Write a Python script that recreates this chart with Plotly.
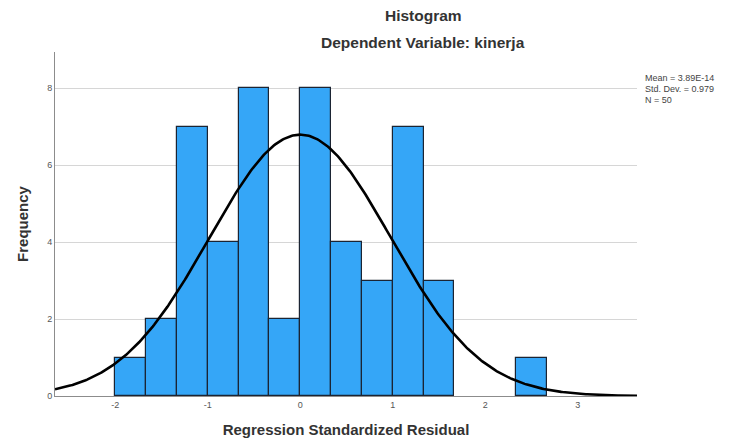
import numpy as np
import plotly.graph_objects as go

# ---- data ----
bin_start = -2.0
bin_width = 1.0 / 3.0
counts = [1, 2, 7, 4, 8, 2, 8, 4, 3, 7, 3, 0, 0, 1]
mean_val = 3.89e-14
std_val = 0.979
n_val = 50
x_ticks = [-2, -1, 0, 1, 2, 3]
y_ticks = [0, 2, 4, 6, 8]
stats_lines = ["Mean = 3.89E-14", "Std. Dev. = 0.979", "N = 50"]

centers = [bin_start + bin_width * (i + 0.5) for i in range(len(counts))]
bar_heights = [c if c > 0 else None for c in counts]

x_range = [-2.65, 3.64]
y_range = [0, 8.94]

xs = np.linspace(x_range[0], x_range[1], 400)
ys = n_val * bin_width * np.exp(-0.5 * ((xs - mean_val) / std_val) ** 2) / (std_val * np.sqrt(2 * np.pi))

fig = go.Figure()
fig.add_trace(go.Bar(
    x=centers, y=bar_heights, width=bin_width,
    marker=dict(color="#35A6F7", line=dict(color="#1b2433", width=1.2)),
    hoverinfo="x+y", showlegend=False,
))
fig.add_trace(go.Scatter(
    x=xs, y=ys, mode="lines",
    line=dict(color="black", width=2.6), showlegend=False, hoverinfo="skip",
))

font_family = "Liberation Sans, Arial, sans-serif"

fig.update_layout(
    width=730, height=443,
    margin=dict(l=55, r=93, t=52, b=47, autoexpand=False),
    paper_bgcolor="white", plot_bgcolor="white",
    font=dict(family=font_family, color="#333"),
    bargap=0,
    xaxis=dict(
        range=x_range, tickvals=x_ticks, ticktext=[str(v) for v in x_ticks],
        showgrid=False, zeroline=False, automargin=False,
        showline=True, linecolor="#8c8c8c", linewidth=1,
        ticks="", tickfont=dict(size=9, color="#555"),
        title=dict(text="<b>Regression Standardized Residual</b>",
                   font=dict(size=15, color="#333"), standoff=15),
    ),
    yaxis=dict(
        range=y_range, tickvals=y_ticks, ticktext=[str(v) for v in y_ticks],
        showgrid=True, gridcolor="#d6d6d6", gridwidth=1, zeroline=False, automargin=False,
        showline=True, linecolor="#8c8c8c", linewidth=1,
        ticks="", tickfont=dict(size=9, color="#555"),
        title=dict(text="<b>Frequency</b>", font=dict(size=15, color="#333"), standoff=14),
    ),
)

plot_h = 396 - 52
plot_w = 637 - 55

fig.add_annotation(text="<b>Histogram</b>", xref="paper", yref="paper",
                   x=(423 - 55) / plot_w, y=1 + (52 - 15) / plot_h,
                   showarrow=False, font=dict(size=15.5, color="#333"),
                   xanchor="center", yanchor="middle")
fig.add_annotation(text="<b>Dependent Variable: kinerja</b>", xref="paper", yref="paper",
                   x=(423 - 55) / plot_w, y=1 + (52 - 43) / plot_h,
                   showarrow=False, font=dict(size=15.5, color="#333"),
                   xanchor="center", yanchor="middle")
for i, line in enumerate(stats_lines):
    fig.add_annotation(text=line, xref="paper", yref="paper",
                       x=1 + (643 - 637) / plot_w, y=1 - (78 + 11 * i - 52) / plot_h,
                       showarrow=False, align="left", xanchor="left", yanchor="middle",
                       font=dict(size=9, color="#444"))

fig.write_html("out.html", config={"displayModeBar": False},
               post_script="document.body.style.margin='0';document.body.style.padding='0';")
